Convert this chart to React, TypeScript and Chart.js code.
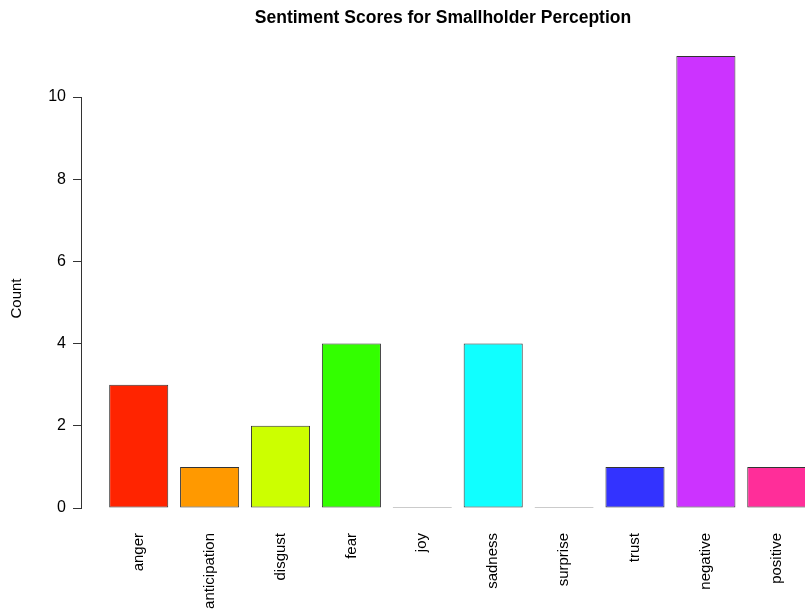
import React, { useEffect, useRef } from "react";
import { Chart, registerables } from "chart.js";

Chart.register(...registerables);

const categories = ["anger", "anticipation", "disgust", "fear", "joy", "sadness", "surprise", "trust", "negative", "positive"];
const counts = [3, 1, 2, 4, 0, 4, 0, 1, 11, 1];
const barColors = ["#FF2400", "#FF9900", "#CCFF00", "#33FF00", "#00FF66", "#10FFFF", "#0066FF", "#3333FF", "#CC33FF", "#FF2E99"];
const yTicks = [0, 2, 4, 6, 8, 10];
const chartTitle = "Sentiment Scores for Smallholder Perception";
const yTitle = "Count";

const FONT = "'Liberation Sans', Arial, Helvetica, sans-serif";

export default function App() {
  const ref = useRef<HTMLCanvasElement | null>(null);

  useEffect(() => {
    document.body.style.margin = "0";
    document.body.style.overflow = "hidden";
    const canvas = ref.current;
    if (!canvas) return;

    const textPlugin = {
      id: "rText",
      afterDraw(chart: any) {
        const ctx = chart.ctx;
        const area = chart.chartArea;
        ctx.save();
        ctx.fillStyle = "#000";
        ctx.font = `bold 17.5px ${FONT}`;
        ctx.textAlign = "center";
        ctx.textBaseline = "middle";
        ctx.fillText(chartTitle, (area.left + area.right) / 2, 18);
        ctx.translate(17, (area.top + area.bottom) / 2 - 4);
        ctx.rotate(-Math.PI / 2);
        ctx.font = `15px ${FONT}`;
        ctx.fillText(yTitle, 0, 0);
        ctx.restore();
      },
    };

    const chart = new Chart(canvas, {
      type: "bar",
      data: {
        datasets: [
          {
            data: categories.map((c, i) => ({ x: i, y: counts[i] })),
            backgroundColor: barColors,
            borderColor: "#333",
            borderWidth: 1,
            borderSkipped: false,
            minBarLength: 1,
            clip: false as any,
            barPercentage: 1,
            categoryPercentage: 1 / 1.2,
          },
        ],
      },
      options: {
        animation: false,
        responsive: false,
        layout: { padding: { top: 97, left: 0, right: 0, bottom: 0 } },
        plugins: { legend: { display: false }, tooltip: { enabled: false }, title: { display: false } },
        scales: {
          x: {
            type: "linear",
            offset: false,
            bounds: "data",
            min: -0.814,
            max: 9.398,
            border: { display: false },
            grid: { display: false, drawTicks: false, offset: false },
            afterBuildTicks: (scale: any) => {
              scale.ticks = categories.map((_, i) => ({ value: i }));
            },
            afterFit: (scale: any) => {
              scale.height = 103;
              scale.paddingLeft = 0;
              scale.paddingRight = 0;
            },
            ticks: {
              autoSkip: false,
              minRotation: 90,
              maxRotation: 90,
              padding: 25,
              color: "#000",
              font: { family: FONT, size: 15 },
              callback: (v: any) => categories[v as number] ?? "",
            },
          },
          y: {
            min: 0,
            max: 10,
            border: { display: true, color: "#333", width: 1 },
            grid: { display: true, drawOnChartArea: false, drawTicks: true, tickLength: 8, color: "#333" },
            afterBuildTicks: (scale: any) => {
              scale.ticks = yTicks.map((v) => ({ value: v }));
            },
            afterFit: (scale: any) => {
              scale.width = 81;
            },
            ticks: {
              padding: 7,
              color: "#000",
              font: { family: FONT, size: 16 },
            },
          },
        },
      },
      plugins: [textPlugin],
    } as any);

    return () => chart.destroy();
  }, []);

  return (
    <div style={{ width: 805, height: 611, overflow: "hidden", background: "#fff" }}>
      <canvas ref={ref} width={805} height={611} />
    </div>
  );
}
